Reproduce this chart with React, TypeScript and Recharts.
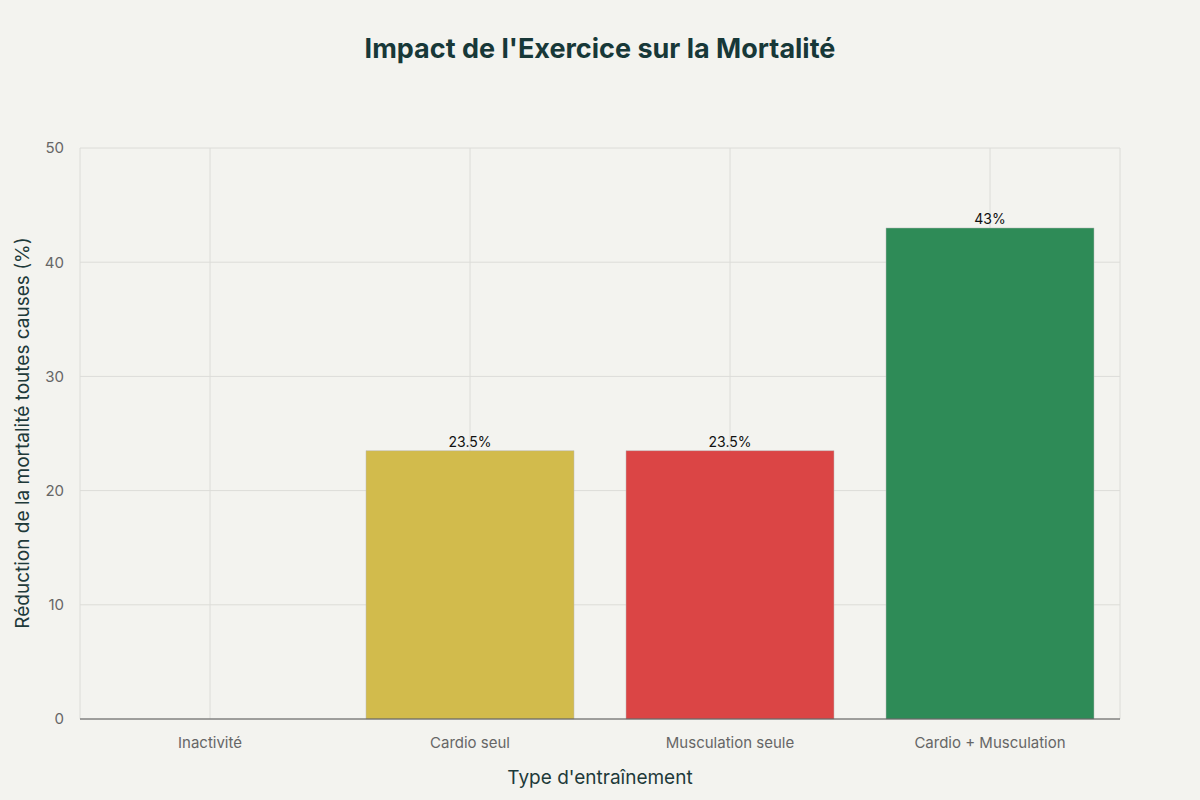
import { Bar, BarChart, CartesianGrid, Cell, LabelList, XAxis, YAxis } from "recharts";

const categories = ["Inactivité", "Cardio seul", "Musculation seule", "Cardio + Musculation"];
const reductions = [0, 23.5, 23.5, 43];
const barColors = ["#d9d9d9", "#d2bb4c", "#db4545", "#2e8b57"];
const yTicks = [0, 10, 20, 30, 40, 50];

const data = categories.map((name, i) => ({ name, value: reductions[i] }));

const FONT = "Inter, 'Open Sans', sans-serif";

export default function App() {
  return (
    <div
      style={{
        position: "absolute",
        left: 0,
        top: 0,
        width: 1200,
        height: 800,
        background: "#f3f3ef",
        fontFamily: FONT,
      }}
    >
      <div
        style={{
          position: "absolute",
          top: 32,
          width: 1200,
          textAlign: "center",
          fontSize: 27,
          fontWeight: 700,
          color: "#173838",
        }}
      >
        Impact de l'Exercice sur la Mortalité
      </div>
      <div
        style={{
          position: "absolute",
          top: 766,
          width: 1200,
          textAlign: "center",
          fontSize: 19,
          color: "#1e3a3a",
        }}
      >
        Type d'entraînement
      </div>
      <div
        style={{
          position: "absolute",
          left: 22,
          top: 433,
          transform: "translate(-50%, -50%) rotate(-90deg)",
          whiteSpace: "nowrap",
          fontSize: 19,
          color: "#1e3a3a",
        }}
      >
        Réduction de la mortalité toutes causes (%)
      </div>
      <div style={{ position: "absolute", left: 0, top: 0 }}>
        <BarChart
          width={1200}
          height={800}
          data={data}
          margin={{ top: 148, right: 80, bottom: 0, left: 20 }}
          barCategoryGap="10%"
        >
          <CartesianGrid stroke="#dcdcd8" />
          <XAxis
            dataKey="name"
            height={81}
            tickLine={false}
            axisLine={{ stroke: "#555" }}
            tick={{ fill: "#666", fontSize: 15, fontFamily: FONT }}
            tickMargin={12}
          />
          <YAxis
            width={60}
            domain={[0, 50]}
            ticks={yTicks}
            axisLine={false}
            tickLine={false}
            tick={{ fill: "#666", fontSize: 15, fontFamily: FONT }}
            tickMargin={10}
          />
          <Bar dataKey="value" isAnimationActive={false}>
            {data.map((d, i) => (
              <Cell key={d.name} fill={barColors[i]} stroke="#bbb" strokeWidth={0.5} />
            ))}
            <LabelList
              dataKey="value"
              position="top"
              formatter={(v: any) => `${v}%`}
              style={{ fill: "#111", fontSize: 14, fontFamily: FONT }}
              offset={4}
            />
          </Bar>
        </BarChart>
      </div>
    </div>
  );
}
